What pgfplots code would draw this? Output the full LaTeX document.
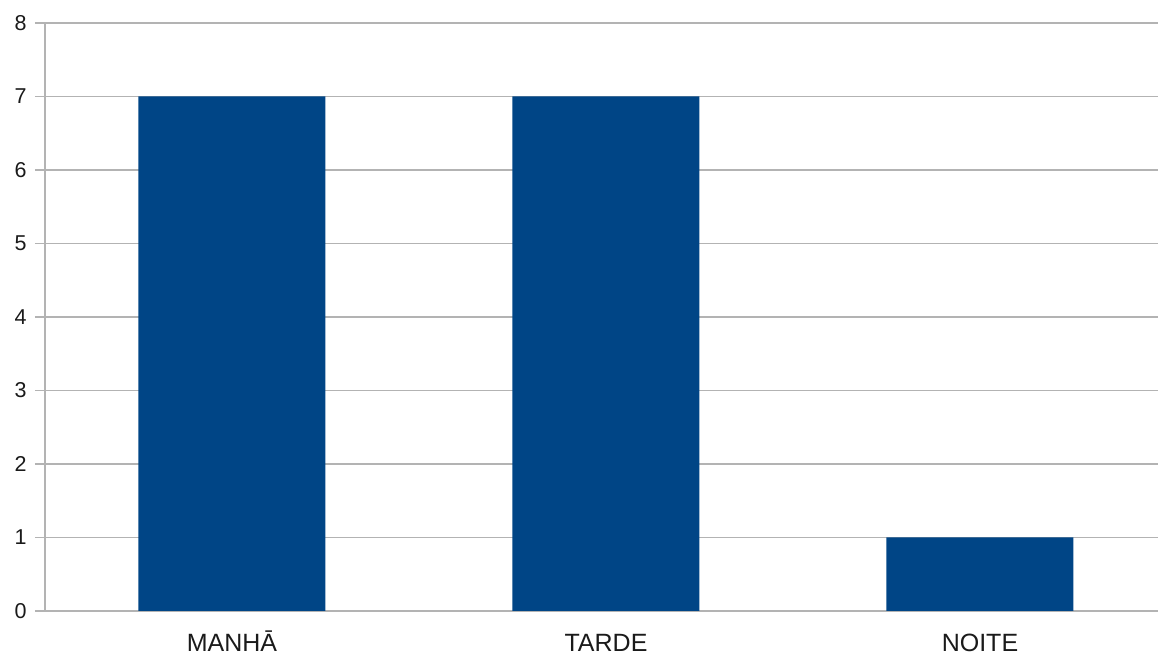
\documentclass[border=0pt]{standalone}
\usepackage{pgfplots}
\pgfplotsset{compat=1.18}
\usepackage{fontspec}
\setmainfont{Liberation Sans}
\definecolor{barblue}{HTML}{004586}
\definecolor{gridgray}{HTML}{B3B3B3}
\definecolor{labelgray}{HTML}{1A1A1A}

\begin{document}
\begin{tikzpicture}[x=1pt,y=1pt]
\begin{axis}[
  scale only axis,
  width=1113pt, height=588pt,
  xmin=-0.5, xmax=2.476,
  ymin=0, ymax=8,
  axis lines=left,
  axis line style={gridgray, line width=1.6pt, -},
  x axis line style={draw=none},
  ytick={0,1,...,8},
  ymajorgrids,
  grid style={gridgray, line width=1.6pt},
  tick align=outside,
  major tick length=10pt,
  tick style={gridgray, line width=1.6pt},
  xtick={0,1,2},
  xticklabels={MANHĀ, TARDE, NOITE},
  x tick style={draw=none},
  extra x ticks={-0.5,0.5,1.5},
  extra x tick labels={},
  extra x tick style={tick style={gridgray, line width=1.6pt, draw=gridgray}, major tick length=11pt},
  xticklabel style={font=\fontsize{25}{28}\selectfont, text=labelgray,
    anchor=base, inner sep=0pt, text depth=0pt, yshift=-31pt},
  yticklabel style={font=\fontsize{21.5}{24}\selectfont, text=labelgray, xshift=-5pt},
  /pgf/number format/assume math mode=true,
  clip=false,
]
\addplot[ybar, bar width=187pt, fill=barblue, draw=none] coordinates {
  (0,7) (1,7) (2,1)
};
\end{axis}
\pgfresetboundingbox
\useasboundingbox ([shift={(-45pt,-43pt)}]current axis.south west)
  rectangle ([shift={(0pt,23pt)}]current axis.north east);
\end{tikzpicture}
\end{document}
